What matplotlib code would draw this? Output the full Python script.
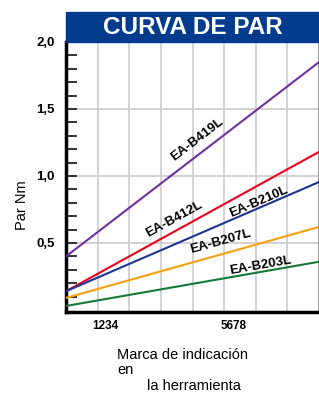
import matplotlib.pyplot as plt
import numpy as np
from matplotlib.patches import Rectangle

plt.rcParams['font.family'] = ['Liberation Sans', 'DejaVu Sans']

# data
models = ['EA-B419L', 'EA-B412L', 'EA-B210L', 'EA-B207L', 'EA-B203L']
x_pts = [0, 8]
torque_start = [0.40, 0.14, 0.14, 0.09, 0.03]
torque_end = [1.85, 1.18, 0.955, 0.62, 0.36]
colors = ['#7030a0', '#e8001c', '#1c3591', '#f7a00c', '#137a3a']
label_x = [4.15, 3.42, 6.08, 4.9, 6.14]
label_y = [1.27, 0.68, 0.81, 0.51, 0.33]

xtick_pos = [1.25, 5.3]
xtick_labels = ['1234', '5678']
ytick_pos = [0.5, 1.0, 1.5, 2.0]
ytick_labels = ['0,5', '1,0', '1,5', '2,0']

W, H = 319, 394
fig = plt.figure(figsize=(W / 100, H / 100), dpi=100)
ax = fig.add_axes([66 / W, (H - 312) / H, 253 / W, 270 / H])

for s, e, c in zip(torque_start, torque_end, colors):
    ax.plot(x_pts, [s, e], color=c, lw=1.5, zorder=3)

ax.set_xlim(0, 8)
ax.set_ylim(-0.015, 2.0)

ax.set_xticks(xtick_pos)
ax.set_xticklabels(xtick_labels, fontsize=8.5, fontweight='bold')
ax.set_xticks(range(1, 8), minor=True)
ax.tick_params(axis='x', which='both', length=0, pad=6)

ax.set_yticks(ytick_pos)
ax.set_yticklabels(ytick_labels, fontsize=9.5, fontweight='bold')
ax.set_yticks(np.arange(0.1, 2.0, 0.1), minor=True)
ax.tick_params(axis='y', which='both', direction='in', length=8, width=1.3,
               pad=8, color='#222222')

ax.grid(True, which='minor', axis='x', color='#cfcfcf', lw=1.3)
ax.grid(True, which='major', axis='y', color='#cfcfcf', lw=1.3)
ax.set_axisbelow(True)

ax.spines['left'].set_linewidth(2.5)
ax.spines['bottom'].set_linewidth(2.5)
ax.spines['top'].set_linewidth(1.2)
ax.spines['right'].set_color('#888888')
ax.spines['right'].set_linewidth(1.2)

# rotated line labels
for name, s, e, lx, ly in zip(models, torque_start, torque_end, label_x, label_y):
    p0 = ax.transData.transform((x_pts[0], s))
    p1 = ax.transData.transform((x_pts[1], e))
    ang = np.degrees(np.arctan2(p1[1] - p0[1], p1[0] - p0[0]))
    ax.text(lx, ly, name, rotation=ang, rotation_mode='anchor',
            ha='center', va='center', fontsize=9.5, fontweight='bold', zorder=4)

# title banner
fig.patches.append(Rectangle((66 / W, (H - 42) / H), 253 / W, 30 / H,
                             transform=fig.transFigure, color='#003b8e',
                             zorder=0))
fig.text((66 + 253 / 2) / W, (H - 27) / H, 'CURVA DE PAR', color='white',
         fontsize=17.5, fontweight='bold', ha='center', va='center')

fig.text(22 / W, (H - 205) / H, 'Par Nm', rotation=90, fontsize=10.5,
         ha='center', va='center')
fig.text(117 / W, (H - 355) / H, 'Marca de indicación', fontsize=10.5,
         ha='left', va='center')
fig.text(117 / W, (H - 370) / H, 'en', fontsize=10.5, ha='left', va='center')
fig.text(147 / W, (H - 386) / H, 'la herramienta', fontsize=10.5,
         ha='left', va='center')

fig.savefig('out.png', dpi=100)
